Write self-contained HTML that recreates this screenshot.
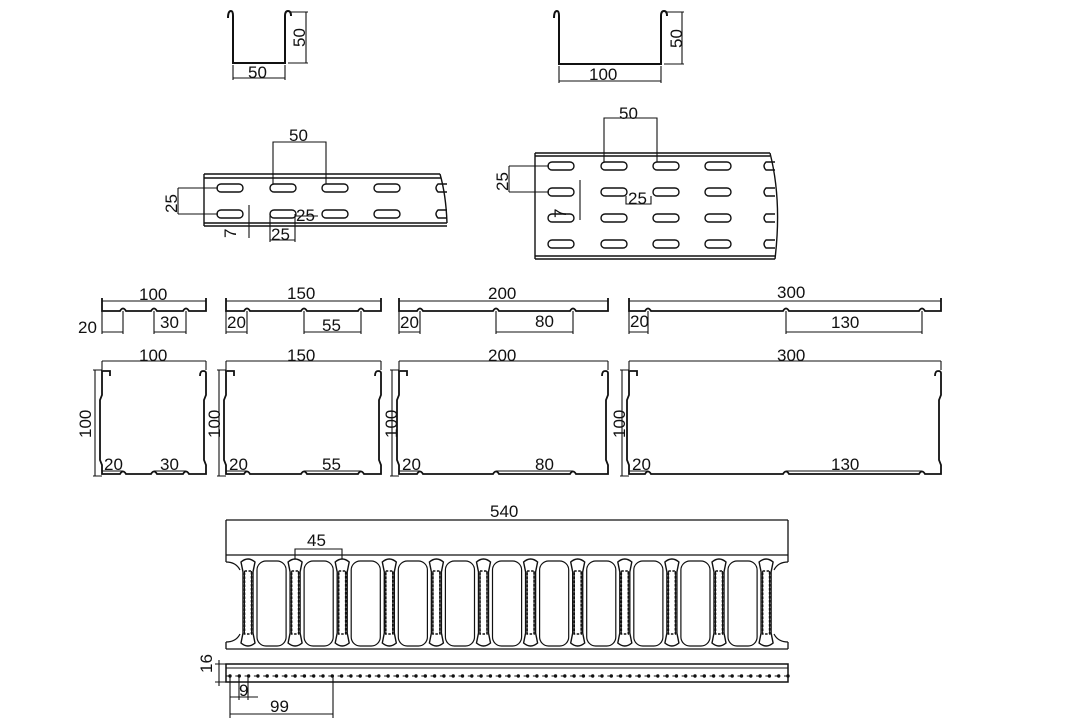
<!DOCTYPE html>
<html><head><meta charset="utf-8"><style>
html,body{margin:0;padding:0;background:#fff;width:1086px;height:725px;overflow:hidden}
svg text{font-family:"Liberation Sans",sans-serif;font-size:17px;fill:#111}
</style></head><body>
<svg id="s" width="1086" height="725" viewBox="0 0 1086 725" xmlns="http://www.w3.org/2000/svg">
<g id="g" fill="none" stroke="#111" stroke-width="1.5">
<path d="M228,18 Q228,11 231,11 Q233,11 233,16 L233,63 L285,63 L285,16 Q285,11 288,11 Q291,11 291,16" stroke-width="2"/>
<path d="M554,18 Q554,11 557,11 Q559,11 559,16 L559,64 L661,64 L661,16 Q661,11 664,11 Q667,11 667,16" stroke-width="2"/>
<path d="M306,12 V63 M291,12 H308 M288,63 H308 M233,65 V80 M285,65 V80 M233,78 H285" stroke-width="1.1"/>
<path d="M682,12 V64 M667,12 H684 M664,64 H684 M559,66 V83 M661,66 V83 M559,81 H661" stroke-width="1.1"/>
<path d="M204,174 H440 M204,178 H441 M204,223 H447 M204,226 H447 M204,174 V226 M440,174 Q446,195 447,223" stroke-width="1.4"/>
<path d="M273,184 V142 H326 V184 M178,188 V214 M178,188 H218 M178,214 H218 M249,205 V238 M270,214 V242 M295,214 V242 M270,240 H295 M295,216 H318" stroke-width="1.1"/>
<path d="M535,153 H770 M535,156 H770 M535,153 V259 M535,256 H775 M535,259 H775 M770,153 Q782,200 775,259" stroke-width="1.4"/>
<path d="M604,162 V118 H657 V162 M509,166 V192 M509,166 H549 M509,192 H549 M580,180 V220 M626,196 V204 H651 V196" stroke-width="1.1"/>
<path d="M226,520 V555 M788,520 V555 M226,520 H788 M226,555 H788 M226,649 H788 M226,555 V562 M788,555 V562 M226,642 V649 M788,642 V649" stroke-width="1.3"/>
<path d="M295,559 V549 H342 V559" stroke-width="1.1"/>
<rect x="226" y="664" width="562" height="18" stroke-width="1.5"/>
<path d="M226,668 H788 M230,676 V718 M333,676 V718 M230,714 H333 M230,676 V700 M239,676 V700 M248,676 V700 M230,697 H258 M215,664 H228 M215,682 H228 M219,660 V686" stroke-width="1.1"/>
</g>
<g id="gen" fill="none" stroke="#111"></g>
<g>
<text x="248" y="78">50</text>
<text transform="translate(305,47) rotate(-90)">50</text>
<text x="589" y="80">100</text>
<text transform="translate(682,48) rotate(-90)">50</text>
<text x="289" y="141">50</text>
<text transform="translate(177,213) rotate(-90)">25</text>
<text transform="translate(236,238) rotate(-90)">7</text>
<text x="296" y="221">25</text>
<text x="271" y="240">25</text>
<text x="619" y="119">50</text>
<text transform="translate(508,191) rotate(-90)">25</text>
<text transform="translate(566,218) rotate(-90)">7</text>
<text x="628" y="204">25</text>
<text x="139" y="300">100</text>
<text x="287" y="299">150</text>
<text x="488" y="299">200</text>
<text x="777" y="298">300</text>
<text x="78" y="333">20</text>
<text x="160" y="328">30</text>
<text x="227" y="328">20</text>
<text x="322" y="331">55</text>
<text x="400" y="328">20</text>
<text x="535" y="327">80</text>
<text x="630" y="327">20</text>
<text x="831" y="328">130</text>
<text x="139" y="361">100</text>
<text x="287" y="361">150</text>
<text x="488" y="361">200</text>
<text x="777" y="361">300</text>
<text transform="translate(91,438) rotate(-90)">100</text>
<text transform="translate(220,438) rotate(-90)">100</text>
<text transform="translate(397,438) rotate(-90)">100</text>
<text transform="translate(625,438) rotate(-90)">100</text>
<text x="104" y="470">20</text>
<text x="160" y="470">30</text>
<text x="229" y="470">20</text>
<text x="322" y="470">55</text>
<text x="402" y="470">20</text>
<text x="535" y="470">80</text>
<text x="632" y="470">20</text>
<text x="831" y="470">130</text>
<text x="490" y="517">540</text>
<text x="307" y="546">45</text>
<text transform="translate(212,673) rotate(-90)">16</text>
<text x="239" y="696">9</text>
<text x="270" y="712">99</text>
</g>
</svg>
<script>
var g=document.getElementById('gen'),h='';
function slot(cx,cy){h+='<rect x="'+(cx-13)+'" y="'+(cy-4)+'" width="26" height="8" rx="4" stroke-width="1.4"/>';}
[230,283,335,387].forEach(function(x){slot(x,188);slot(x,214);});
h+='<path d="M447,184 H438 Q434,188 438,192 H447 M447,210 H438 Q434,214 438,218 H447" stroke-width="1.4"/>';
[561,614,666,718].forEach(function(x){[166,192,218,244].forEach(function(y){slot(x,y);});});
[166,192,218,244].forEach(function(y){h+='<path d="M775,'+(y-4)+' H766 Q762,'+y+' 766,'+(y+4)+' H775" stroke-width="1.4"/>';});
var T=[[102,206,[123,154,186]],[226,381,[247,304,361]],[399,608,[420,496,573]],[629,941,[648,786,922]]];
T.forEach(function(t){var a=t[0],b=t[1],bs=t[2];
 var p='M'+a+',298 V311 ';bs.forEach(function(x){p+='L'+(x-3)+',311 Q'+x+',306 '+(x+3)+',311 ';});p+='L'+b+',311 V298';
 h+='<path d="'+p+'" stroke-width="1.8"/>';
 h+='<path d="M'+a+',301 H'+b+' M'+a+',311 V334 M'+bs[0]+',311 V334 M'+a+',332 H'+bs[0]+' M'+bs[1]+',311 V334 M'+bs[2]+',311 V334 M'+bs[1]+',332 H'+bs[2]+'" stroke-width="1.1"/>';
 var q='M'+(a+8)+',376 V371 H'+a+' V395 L'+(a-2)+',400 V460 L'+a+',465 V474 ';
 bs.forEach(function(x){q+='L'+(x-3)+',474 Q'+x+',469 '+(x+3)+',474 ';});
 q+='L'+b+',474 V465 L'+(b-2)+',460 V400 L'+b+',395 V373 Q'+b+',371 '+(b-3)+',371 Q'+(b-6)+',371 '+(b-6)+',376';
 h+='<path d="'+q+'" stroke-width="1.8"/>';
 h+='<path d="M'+a+',361 H'+b+' M'+a+',361 V370 M'+b+',361 V370 M'+(a-7)+',370 V476 M'+(a-9)+',370 H'+a+' M'+(a-9)+',476 H'+a+' M'+a+',471 H'+bs[0]+' M'+bs[1]+',471 H'+bs[2]+'" stroke-width="1.1"/>';
});
for(var i=0;i<12;i++){var x=248+i*47.1;
 h+='<path d="M'+(x-7)+',562 Q'+x+',556 '+(x+7)+',562 L'+(x+5)+',572 V633 L'+(x+7)+',643 Q'+x+',649 '+(x-7)+',643 L'+(x-5)+',633 V572 Z" stroke-width="1.4"/>';
 h+='<rect x="'+(x-3.5)+'" y="571" width="7" height="63" stroke-width="1.6" stroke-dasharray="2.5,1.5"/>';
 h+='<path d="M'+(x-3.5)+',571 V634 M'+(x+3.5)+',571 V634" stroke-width="1"/>';
 if(i<11)h+='<rect x="'+(x+9)+'" y="561" width="'+(47.1-18)+'" height="85" rx="9" stroke-width="1.2"/>';
}
h+='<path d="M226,562 Q236,562 240,570 M226,642 Q236,642 240,634 M788,562 Q778,562 774,570 M788,642 Q778,642 774,634" stroke-width="1.2"/>';
for(var x=230;x<788;x+=9.3){h+='<circle cx="'+x+'" cy="676" r="1.7" fill="#111" stroke="none"/>';}
h+='<path d="M226,676 H788" stroke-width="1.1" stroke-dasharray="3,6.3"/>';
g.innerHTML=h;
</script>
</body></html>
